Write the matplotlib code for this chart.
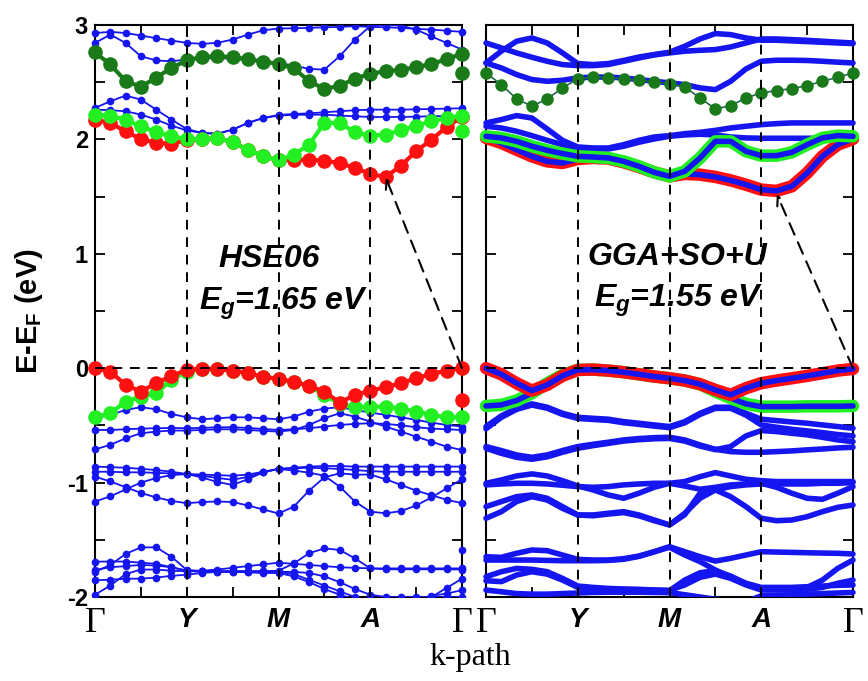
import numpy as np
import matplotlib
matplotlib.use("Agg")
import matplotlib.pyplot as plt
from matplotlib.patches import Rectangle

plt.rcParams['mathtext.fontset'] = 'custom'
plt.rcParams['mathtext.it'] = 'Liberation Sans:italic:bold'
plt.rcParams['mathtext.bf'] = 'Liberation Sans:bold'
plt.rcParams['mathtext.rm'] = 'Liberation Sans:bold'

# ---------------- data ----------------
k_labels = ['Γ', 'Y', 'M', 'A', 'Γ']
kpts = np.linspace(0, 4, 25)
y_tick_labels = ['-2', '', '-1', '', '0', '', '1', '', '2', '', '3']

# HSE06 (left panel)
hse_cb_red = [2.173, 2.144, 2.07, 2.004, 1.969, 1.963, 1.992, 2.004, 2.013, 1.975, 1.91, 1.852, 1.817,
              1.823, 1.823, 1.814, 1.794, 1.75, 1.70, 1.67, 1.77, 1.896, 1.998, 2.109, 2.196]
hse_cb_green = [2.217, 2.208, 2.17, 2.115, 2.062, 2.027, 2.004, 2.004, 2.013, 1.975, 1.91, 1.852, 1.817,
                1.867, 1.954, 2.144, 2.144, 2.062, 2.033, 2.042, 2.08, 2.12, 2.158, 2.187, 2.208]
hse_cb2_dkgreen = [2.76, 2.655, 2.51, 2.46, 2.54, 2.625, 2.69, 2.72, 2.727, 2.72, 2.70, 2.68, 2.66,
                   2.62, 2.51, 2.44, 2.47, 2.53, 2.575, 2.595, 2.61, 2.63, 2.66, 2.70, 2.75]
hse_vb_red = [0.0, -0.029, -0.146, -0.204, -0.131, -0.067, -0.015, -0.003, -0.009, -0.021, -0.044, -0.073, -0.096,
              -0.117, -0.155, -0.204, -0.30, -0.234, -0.196, -0.166, -0.131, -0.088, -0.05, -0.021, 0.0]
hse_vb_green = [-0.429, -0.394, -0.292, -0.248, -0.219, -0.102, -0.029, -0.009, -0.009, -0.021, -0.044, -0.073, -0.096,
                -0.117, -0.155, -0.234, -0.312, -0.341, -0.336, -0.336, -0.353, -0.379, -0.408, -0.429, -0.429]
hse_gamma_extra = [2.58, 2.07, -0.28, -1.59]

hse_blue = [
    [2.93, 2.94, 2.93, 2.908, 2.885, 2.864, 2.844, 2.835, 2.844, 2.873, 2.916, 2.954, 2.969,
     2.972, 2.975, 2.98, 2.983, 2.99, 2.983, 2.98, 2.975, 2.966, 2.96, 2.95, 2.94],
    [2.843, 2.916, 2.843, 2.727, 2.69, 2.683, 2.698, 2.706, 2.712, 2.704, 2.692, 2.68, 2.669,
     2.645, 2.616, 2.61, 2.727, 2.873, 2.99, 3.004, 2.995, 2.96, 2.9, 2.843, 2.785],
    [2.275, 2.333, 2.383, 2.348, 2.26, 2.173, 2.091, 2.056, 2.05, 2.085, 2.144, 2.187, 2.214,
     2.222, 2.228, 2.237, 2.246, 2.255, 2.26, 2.26, 2.26, 2.263, 2.266, 2.269, 2.272],
    [2.26, 2.255, 2.246, 2.217, 2.173, 2.12, 2.079, 2.056, 2.05, 2.085, 2.144, 2.187, 2.208,
     2.215, 2.215, 2.217, 2.208, 2.202, 2.196, 2.196, 2.196, 2.199, 2.202, 2.205, 2.208],
    [-0.438, -0.408, -0.365, -0.341, -0.359, -0.40, -0.429, -0.446, -0.438, -0.429, -0.429, -0.438, -0.446,
     -0.423, -0.379, -0.353, -0.341, -0.365, -0.388, -0.408, -0.429, -0.452, -0.476, -0.496, -0.51],
    [-0.54, -0.54, -0.534, -0.528, -0.525, -0.522, -0.525, -0.522, -0.516, -0.516, -0.522, -0.531, -0.54,
     -0.534, -0.525, -0.51, -0.496, -0.487, -0.481, -0.487, -0.499, -0.516, -0.528, -0.534, -0.54],
    [-0.71, -0.67, -0.613, -0.569, -0.554, -0.545, -0.545, -0.54, -0.534, -0.534, -0.54, -0.548, -0.554,
     -0.54, -0.496, -0.437, -0.394, -0.423, -0.467, -0.51, -0.554, -0.598, -0.642, -0.686, -0.715],
    [-0.86, -0.865, -0.87, -0.88, -0.89, -0.905, -0.925, -0.955, -0.995, -1.02, -0.97, -0.91, -0.88,
     -0.87, -0.86, -0.855, -0.855, -0.86, -0.86, -0.86, -0.86, -0.86, -0.86, -0.86, -0.86],
    [-0.948, -0.99, -1.04, -1.09, -1.13, -1.16, -1.18, -1.17, -1.165, -1.17, -1.2, -1.235, -1.27,
     -1.21, -1.07, -0.954, -0.919, -0.93, -0.93, -0.97, -1.02, -1.07, -1.11, -1.15, -1.18],
    [-0.905, -0.905, -0.91, -0.91, -0.915, -0.92, -0.925, -0.94, -0.96, -0.975, -0.95, -0.91, -0.88,
     -0.875, -0.87, -0.875, -0.88, -0.89, -0.9, -0.905, -0.905, -0.905, -0.905, -0.905, -0.905],
    [-1.166, -1.12, -1.06, -1.0, -0.96, -0.935, -0.925, -0.93, -0.935, -0.94, -0.93, -0.905, -0.88,
     -0.895, -0.913, -0.94, -1.035, -1.166, -1.254, -1.268, -1.25, -1.2, -1.13, -1.05, -0.97],
    [-1.78, -1.72, -1.624, -1.566, -1.566, -1.648, -1.764, -1.775, -1.775, -1.775, -1.775, -1.775, -1.77,
     -1.706, -1.618, -1.575, -1.589, -1.662, -1.75, -1.758, -1.758, -1.758, -1.758, -1.758, -1.76],
    [-1.691, -1.69, -1.69, -1.70, -1.71, -1.74, -1.77, -1.77, -1.76, -1.745, -1.73, -1.715, -1.70,
     -1.71, -1.72, -1.73, -1.74, -1.745, -1.75, -1.75, -1.75, -1.75, -1.75, -1.75, -1.75],
    [-1.764, -1.74, -1.73, -1.72, -1.725, -1.74, -1.77, -1.78, -1.78, -1.78, -1.78, -1.78, -1.78,
     -1.80, -1.85, -1.90, -1.95, -2.0, -2.05, -2.05, -2.05, -2.05, -2.0, -1.92, -1.84],
    [-1.852, -1.85, -1.84, -1.84, -1.83, -1.815, -1.805, -1.79, -1.78, -1.78, -1.785, -1.79, -1.79,
     -1.82, -1.87, -1.93, -1.98, -2.02, -2.05, -2.05, -2.05, -2.02, -1.99, -1.97, -1.94],
    [-1.98, -1.9, -1.8, -1.76, -1.76, -1.77, -1.775, -1.775, -1.775, -1.775, -1.775, -1.775, -1.78,
     -1.78, -1.79, -1.82, -1.87, -1.93, -1.98, -2.0, -2.0, -2.0, -2.0, -2.0, -2.0],
]

# GGA+SO+U (right panel)
gga_cb2_dkgreen = [2.581, 2.479, 2.354, 2.29, 2.354, 2.45, 2.529, 2.543, 2.54, 2.529, 2.517, 2.502, 2.488,
                   2.459, 2.362, 2.266, 2.295, 2.362, 2.406, 2.427, 2.444, 2.47, 2.508, 2.543, 2.581]
gga_cb_green = [2.027, 2.013, 1.983, 1.94, 1.905, 1.876, 1.852, 1.846, 1.838, 1.808, 1.765, 1.712, 1.677,
                1.721, 1.838, 1.983, 1.983, 1.896, 1.858, 1.858, 1.887, 1.954, 2.013, 2.033, 2.027]
gga_cb_red = [2.013, 1.969, 1.91, 1.852, 1.808, 1.794, 1.829, 1.838, 1.832, 1.80, 1.759, 1.712, 1.677,
              1.698, 1.692, 1.672, 1.642, 1.604, 1.561, 1.55, 1.59, 1.706, 1.852, 1.954, 2.004]
gga_vb_red = [0.0, -0.053, -0.131, -0.196, -0.146, -0.067, -0.015, -0.012, -0.021, -0.035, -0.053, -0.073, -0.088,
              -0.108, -0.14, -0.19, -0.233, -0.175, -0.131, -0.108, -0.088, -0.067, -0.044, -0.021, -0.006]
gga_vb_green = [-0.33, -0.321, -0.283, -0.219, -0.131, -0.059, -0.015, -0.012, -0.021, -0.035, -0.053, -0.073, -0.088,
                -0.108, -0.14, -0.204, -0.262, -0.312, -0.336, -0.336, -0.336, -0.333, -0.333, -0.333, -0.33]

gga_blue = [
    [2.668, 2.771, 2.858, 2.887, 2.843, 2.756, 2.663, 2.654, 2.663, 2.69, 2.72, 2.742, 2.762,
     2.814, 2.878, 2.925, 2.916, 2.887, 2.867, 2.867, 2.861, 2.855, 2.849, 2.843, 2.838],
    [2.843, 2.80, 2.756, 2.718, 2.683, 2.654, 2.645, 2.645, 2.655, 2.683, 2.712, 2.738, 2.756,
     2.771, 2.779, 2.785, 2.808, 2.843, 2.878, 2.878, 2.872, 2.866, 2.858, 2.85, 2.843],
    [2.668, 2.625, 2.567, 2.523, 2.508, 2.517, 2.537, 2.545, 2.545, 2.537, 2.523, 2.508, 2.494,
     2.479, 2.45, 2.435, 2.508, 2.616, 2.683, 2.692, 2.692, 2.69, 2.683, 2.675, 2.668],
    [2.144, 2.173, 2.208, 2.187, 2.091, 1.992, 1.934, 1.925, 1.925, 1.954, 1.992, 2.021, 2.033,
     2.05, 2.062, 2.079, 2.10, 2.115, 2.129, 2.138, 2.144, 2.144, 2.144, 2.144, 2.144],
    [2.115, 2.10, 2.071, 2.033, 1.992, 1.954, 1.925, 1.916, 1.916, 1.94, 1.975, 2.004, 2.027,
     2.039, 2.045, 2.039, 2.021, 2.013, 2.01, 2.01, 2.01, 2.01, 2.01, 2.013, 2.013],
    [-0.51, -0.417, -0.35, -0.312, -0.341, -0.394, -0.429, -0.438, -0.446, -0.467, -0.481, -0.496, -0.51,
     -0.467, -0.394, -0.341, -0.341, -0.394, -0.446, -0.458, -0.47, -0.481, -0.496, -0.51, -0.525],
    [-0.53, -0.43, -0.36, -0.322, -0.35, -0.404, -0.439, -0.448, -0.456, -0.477, -0.491, -0.506, -0.52,
     -0.477, -0.404, -0.351, -0.351, -0.41, -0.496, -0.516, -0.534, -0.548, -0.563, -0.58, -0.592],
    [-0.685, -0.72, -0.758, -0.779, -0.758, -0.72, -0.685, -0.665, -0.647, -0.627, -0.615, -0.607, -0.604,
     -0.627, -0.671, -0.709, -0.729, -0.735, -0.735, -0.729, -0.723, -0.714, -0.706, -0.697, -0.691],
    [-0.70, -0.744, -0.779, -0.796, -0.775, -0.735, -0.70, -0.677, -0.657, -0.637, -0.625, -0.617, -0.614,
     -0.637, -0.681, -0.712, -0.685, -0.592, -0.545, -0.554, -0.569, -0.583, -0.604, -0.627, -0.642],
    [-1.006, -0.977, -0.942, -0.924, -0.942, -0.983, -1.029, -1.064, -1.108, -1.137, -1.093, -1.041, -1.006,
     -0.991, -0.948, -0.913, -0.942, -0.971, -0.983, -0.991, -0.991, -0.991, -0.991, -0.991, -0.991],
    [-1.02, -1.012, -1.006, -1.006, -1.012, -1.023, -1.035, -1.041, -1.035, -1.02, -1.012, -1.006, -1.006,
     -1.03, -1.058, -1.041, -1.02, -1.012, -1.006, -1.041, -1.093, -1.137, -1.146, -1.093, -1.035],
    [-1.21, -1.166, -1.123, -1.108, -1.137, -1.21, -1.283, -1.283, -1.268, -1.254, -1.283, -1.327, -1.37,
     -1.268, -1.137, -1.064, -1.035, -1.02, -1.012, -1.012, -1.012, -1.012, -1.006, -1.006, -1.0],
    [-1.312, -1.254, -1.166, -1.123, -1.152, -1.225, -1.283, -1.29, -1.275, -1.262, -1.29, -1.333, -1.37,
     -1.28, -1.093, -1.064, -1.123, -1.21, -1.312, -1.333, -1.327, -1.298, -1.254, -1.216, -1.196],
    [-1.648, -1.653, -1.618, -1.589, -1.595, -1.633, -1.671, -1.677, -1.677, -1.665, -1.642, -1.604, -1.56,
     -1.604, -1.648, -1.686, -1.662, -1.633, -1.604, -1.607, -1.61, -1.613, -1.616, -1.618, -1.624],
    [-1.677, -1.677, -1.677, -1.677, -1.68, -1.683, -1.683, -1.683, -1.68, -1.67, -1.645, -1.605, -1.565,
     -1.633, -1.691, -1.764, -1.828, -1.881, -1.925, -1.925, -1.925, -1.916, -1.852, -1.75, -1.677],
    [-1.823, -1.779, -1.75, -1.758, -1.779, -1.837, -1.904, -1.916, -1.925, -1.93, -1.933, -1.939, -1.945,
     -1.852, -1.788, -1.77, -1.817, -1.881, -1.916, -1.916, -1.916, -1.91, -1.904, -1.898, -1.895],
    [-1.858, -1.866, -1.808, -1.779, -1.8, -1.852, -1.916, -1.925, -1.93, -1.935, -1.937, -1.94, -1.942,
     -1.895, -1.828, -1.8, -1.837, -1.895, -1.939, -1.939, -1.939, -1.933, -1.916, -1.88, -1.852],
    [-1.939, -1.954, -1.97, -1.975, -1.975, -1.97, -1.965, -1.96, -1.958, -1.958, -1.958, -1.96, -1.962,
     -1.98, -2.0, -2.02, -2.03, -2.04, -1.99, -1.985, -1.98, -1.975, -1.97, -1.965, -1.96],
]

hse_gap_label = r'$E_g$=1.65 eV'
gga_gap_label = r'$E_g$=1.55 eV'
hse_cbm = (3.17, 1.665)
gga_cbm = (3.17, 1.52)
vbm = (4.0, 0.0)

# ---------------- styles ----------------
BLUE = '#1515f0'
RED = '#ff1010'
LIME = '#22f022'
DKGREEN = '#1a7a1a'

W, H = 868, 681
fig = plt.figure(figsize=(W / 100, H / 100), dpi=100)
ax1 = fig.add_axes([95 / W, 1 - 597 / H, 367 / W, 572 / H])
ax2 = fig.add_axes([486 / W, 1 - 597 / H, 367 / W, 572 / H])


def clipper(ax):
    return Rectangle((-0.03, 0), 1.06, 1, transform=ax.transAxes, visible=False)


def setup(ax, ylabels):
    ax.set_xlim(0, 4)
    ax.set_ylim(-2, 3)
    xt = np.arange(0, 4.01, 0.5)
    ax.set_xticks(xt)
    lbls = []
    for v in xt:
        lbls.append(k_labels[int(v)] if abs(v - round(v)) < 1e-6 else '')
    ax.set_xticklabels(lbls)
    for t in ax.get_xticklabels():
        if t.get_text() == 'Γ':
            t.set_fontfamily('Liberation Serif')
            t.set_fontsize(26)
        else:
            t.set_fontfamily('Liberation Sans')
            t.set_fontsize(20)
            t.set_fontweight('bold')
            t.set_fontstyle('italic')
    ax.set_yticks(np.arange(-2, 3.01, 0.5))
    if ylabels:
        ax.set_yticklabels(y_tick_labels, fontsize=17, fontweight='bold', family='Liberation Sans')
    else:
        ax.set_yticklabels([])
    ax.tick_params(direction='in', length=7, width=1.3, top=True, right=True)
    ax.tick_params(axis='x', pad=7)
    ax.tick_params(axis='y', pad=5)
    for s in ax.spines.values():
        s.set_linewidth(1.5)
    for kv in (1, 2, 3):
        ax.axvline(kv, color='black', lw=1.4, ls=(0, (5, 4)), zorder=10)
    ax.axhline(0, color='black', lw=1.4, ls=(0, (5, 4)), zorder=10)


setup(ax1, True)
setup(ax2, False)

# ---- left panel ----
cl1 = clipper(ax1)
for b in hse_blue:
    ln, = ax1.plot(kpts, b, '-', color=BLUE, lw=1.3, marker='o', ms=4.5, mfc=BLUE, mec=BLUE, zorder=3)
    ln.set_clip_path(cl1)
for vals, col, z in [(hse_cb_red, RED, 4), (hse_cb_green, LIME, 5), (hse_cb2_dkgreen, DKGREEN, 4),
                     (hse_vb_green, LIME, 4), (hse_vb_red, RED, 5)]:
    ln, = ax1.plot(kpts, vals, '-', color=col, lw=3, marker='o', ms=9.5, mfc=col, mec=col, zorder=z)
    ln.set_clip_path(cl1)
for e, col in zip(hse_gamma_extra, [DKGREEN, LIME, RED, BLUE]):
    ax1.plot([4.0], [e], 'o', color=col, ms=9.5 if col != BLUE else 4.5, clip_on=False, zorder=6)

# ---- right panel ----
cl2 = clipper(ax2)
for b in gga_blue:
    ln, = ax2.plot(kpts, b, '-', color=BLUE, lw=4, solid_capstyle='round', zorder=3)
    ln.set_clip_path(cl2)
for vals, col, z in [(gga_cb_red, RED, 4), (gga_cb_green, LIME, 4.5),
                     (gga_vb_green, LIME, 4), (gga_vb_red, RED, 4.5)]:
    ln, = ax2.plot(kpts, vals, '-', color=col, lw=9, solid_capstyle='round', zorder=z)
    ln.set_clip_path(cl2)
    ln2, = ax2.plot(kpts, vals, '-', color=BLUE, lw=4, solid_capstyle='round', zorder=z + 0.2)
    ln2.set_clip_path(cl2)
ln, = ax2.plot(kpts, gga_cb2_dkgreen, '-', color='#1f6650', lw=1.2, marker='o', ms=8,
               mfc=DKGREEN, mec=DKGREEN, zorder=5)
ln.set_clip_path(cl2)

# ---- arrows ----
for ax, tip in [(ax1, hse_cbm), (ax2, gga_cbm)]:
    ax.annotate('', xy=tip, xytext=vbm,
                arrowprops=dict(arrowstyle='->', color='black', lw=1.5, ls=(0, (6, 4)),
                                shrinkA=0, shrinkB=0, mutation_scale=16),
                zorder=11, annotation_clip=False)

# ---- texts ----
ax1.text(1.9, 0.885, 'HSE06', fontsize=23, fontweight='bold', style='italic',
         family='Liberation Sans', ha='center', va='baseline', zorder=12)
ax1.text(2.06, 0.51, hse_gap_label, fontsize=23, fontweight='bold', style='italic',
         family='Liberation Sans', ha='center', va='baseline', zorder=12)
ax2.text(2.08, 0.905, 'GGA+SO+U', fontsize=23, fontweight='bold', style='italic',
         family='Liberation Sans', ha='center', va='baseline', zorder=12)
ax2.text(2.10, 0.535, gga_gap_label, fontsize=23, fontweight='bold', style='italic',
         family='Liberation Sans', ha='center', va='baseline', zorder=12)

ax1.set_ylabel(r'E-E$_\mathbf{F}$ (eV)', fontsize=21, fontweight='bold', family='Liberation Sans')
ax1.yaxis.set_label_coords(-0.135, 0.5)

fig.text(470 / W, 1 - 657 / H, 'k-path', family='Liberation Serif', fontsize=23, ha='center', va='center')

fig.savefig('out.png', dpi=100)
